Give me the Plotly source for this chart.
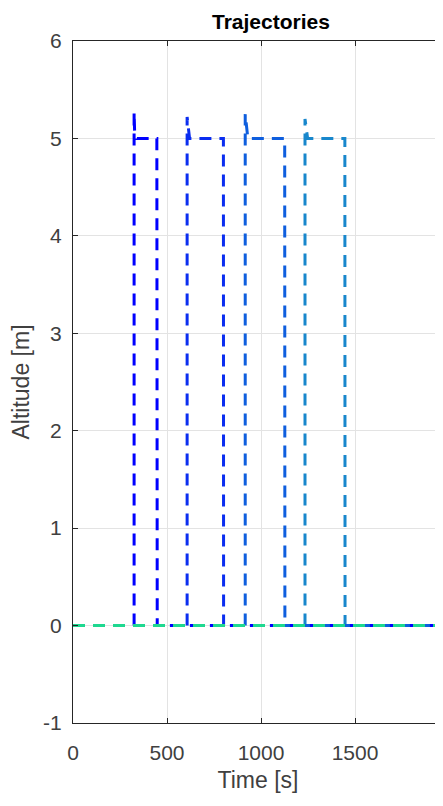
import plotly.graph_objects as go

# ---- data ----
ground_t = [0, 2000]
ground_alt = [0, 0]

drone1_t = [325, 325, 328, 340, 446, 448, 2000]
drone1_alt = [0, 5.27, 5.05, 5.0, 5.0, 0.0, 0.0]

drone2_t = [607, 607, 620, 640, 800, 801, 2000]
drone2_alt = [0, 5.22, 5.0, 5.0, 5.0, 0.0, 0.0]

drone3_t = [916, 916, 930, 945, 1126, 1127, 2000]
drone3_alt = [0, 5.25, 5.0, 5.0, 5.0, 0.0, 0.0]

drone4_t = [1234, 1234, 1248, 1265, 1446, 1447, 2000]
drone4_alt = [0, 5.2, 5.0, 5.0, 5.0, 0.0, 0.0]

colors = ["#0000ff", "#0a2df0", "#0e5ede", "#1887cc"]
ground_color = "#1ed890"

x_ticks = [0, 500, 1000, 1500]
y_ticks = [-1, 0, 1, 2, 3, 4, 5, 6]

fig = go.Figure()
dash = "12px,8px"
for t, a, c in zip([drone4_t, drone3_t, drone2_t, drone1_t],
                   [drone4_alt, drone3_alt, drone2_alt, drone1_alt], colors[::-1]):
    fig.add_trace(go.Scatter(x=t, y=a, mode="lines",
                             line=dict(color=c, width=3, dash=dash)))
fig.add_trace(go.Scatter(x=ground_t, y=ground_alt, mode="lines",
                         line=dict(color=ground_color, width=3, dash=dash)))

axis_color = "#262626"
grid_color = "#e3e3e3"
font_family = "Liberation Sans, Arial, sans-serif"

# page body has an 8px margin, so the figure is offset by (8, 8)
fig.update_layout(
    width=435, height=798,
    margin=dict(l=65, r=0, t=33, b=83),
    paper_bgcolor="white", plot_bgcolor="white",
    showlegend=False,
    font=dict(family=font_family, color=axis_color, size=21),
    annotations=[dict(text="<b>Trajectories</b>", xref="paper", yref="paper",
                      x=0.535, y=1.0, yshift=20, showarrow=False,
                      font=dict(size=21, color="#000000"),
                      xanchor="center", yanchor="middle")],
)
fig.update_xaxes(
    range=[0, 1968], tickvals=x_ticks, ticktext=[str(v) for v in x_ticks],
    showgrid=True, gridcolor=grid_color, gridwidth=1,
    showline=True, linecolor=axis_color, linewidth=1.3, mirror="ticks",
    ticks="inside", ticklen=5, tickcolor=axis_color,
    zeroline=False, tickfont=dict(size=21, color="#404040"),
    title=dict(text="Time [s]", font=dict(size=23, color="#404040"), standoff=8),
    ticklabelstandoff=11, automargin=False,
)
fig.update_yaxes(
    range=[-1, 6], tickvals=y_ticks, ticktext=[str(v) for v in y_ticks],
    showgrid=True, gridcolor=grid_color, gridwidth=1,
    showline=True, linecolor=axis_color, linewidth=1.3, mirror=False,
    ticks="inside", ticklen=5, tickcolor=axis_color,
    zeroline=False, tickfont=dict(size=21, color="#404040"),
    title=dict(text="Altitude [m]", font=dict(size=23, color="#404040"), standoff=8),
    ticklabelstandoff=6, automargin=False,
)

fig.write_html("out.html")
